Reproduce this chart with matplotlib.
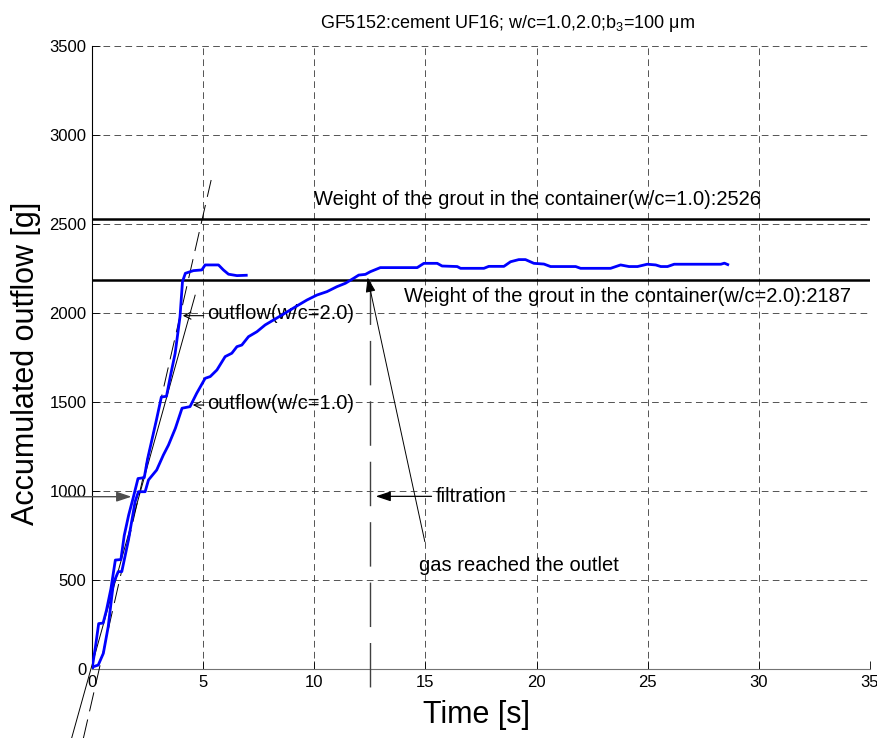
import numpy as np
import matplotlib
matplotlib.use("Agg")
import matplotlib.pyplot as plt

plt.rcParams['font.family'] = ['Liberation Sans', 'DejaVu Sans']
plt.rcParams['mathtext.fontset'] = 'custom'
plt.rcParams['mathtext.rm'] = 'Liberation Sans'
plt.rcParams['mathtext.default'] = 'regular'
plt.rcParams['lines.scale_dashes'] = False

# ------------------------
# DATA
# ------------------------

# outflow w/c=2.0 (steep curve)
t_wc2 = [0, 0.15, 0.3, 0.5, 0.65, 0.85, 1.05, 1.3, 1.45, 1.65,
         1.85, 2.07, 2.35, 2.5, 2.7, 2.9, 3.12, 3.35, 3.55, 3.74,
         3.96, 4.07, 4.2, 4.56, 4.94, 5.09, 5.69, 5.91, 6.14, 6.52, 6.94]
m_wc2 = [0, 120, 255, 258, 330, 450, 612, 615, 750, 865,
         960, 1070, 1075, 1180, 1290, 1400, 1528, 1532, 1660, 1773,
         1980, 2176, 2223, 2238, 2242, 2270, 2270, 2242, 2218, 2210, 2212]

# outflow w/c=1.0
t_wc1 = [0, 0.06, 0.28, 0.51, 0.73, 0.96, 1.18, 1.34, 1.64, 1.94,
         2.09, 2.39, 2.54, 2.91, 3.21, 3.44, 3.75, 4.05, 4.41, 4.71,
         5.09, 5.32, 5.62, 5.99, 6.29, 6.52, 6.74, 7.04, 7.42, 7.79,
         8.17, 8.55, 8.92, 9.29, 9.67, 10.12, 10.57, 11.02, 11.4, 11.77,
         12.0, 12.3, 12.52, 12.97, 14.63, 14.93, 15.53, 15.75, 16.43, 16.58,
         17.63, 17.85, 18.53, 18.83, 19.2, 19.5, 19.88, 20.33, 20.63, 21.76,
         21.98, 23.33, 23.78, 24.16, 24.54, 24.98, 25.36, 25.59, 25.89, 26.19,
         28.29, 28.45, 28.6]
m_wc1 = [0, 13, 22, 88, 238, 481, 547, 547, 725, 940,
         996, 996, 1062, 1118, 1202, 1258, 1352, 1465, 1474, 1549,
         1633, 1643, 1680, 1755, 1774, 1811, 1820, 1867, 1895, 1933,
         1961, 1989, 2017, 2045, 2073, 2101, 2120, 2148, 2167, 2195,
         2213, 2217, 2232, 2255, 2255, 2279, 2279, 2264, 2261, 2251,
         2251, 2262, 2262, 2288, 2300, 2300, 2279, 2275, 2261, 2261,
         2251, 2251, 2270, 2261, 2261, 2274, 2270, 2261, 2261, 2274,
         2274, 2280, 2272]

# grout weights in the container
w_wc1 = 2526
w_wc2 = 2187

# tangent (flow-rate) lines, endpoints
tan_solid_t = [-0.92, 4.64]
tan_solid_m = [-390, 2100]
tan_dash_t = [-0.39, 5.36]
tan_dash_m = [-390, 2747]

# time when gas reached the outlet
t_gas = 12.5

x_ticks = [0, 5, 10, 15, 20, 25, 30, 35]
y_ticks = [0, 500, 1000, 1500, 2000, 2500, 3000, 3500]

# ------------------------
# PLOT
# ------------------------

fig = plt.figure(figsize=(8.78, 7.38), dpi=100)
ax = fig.add_axes([92 / 878, 69 / 738, 778 / 878, 623 / 738])

ax.set_xlim(0, 35)
ax.set_ylim(0, 3500)
ax.set_xticks(x_ticks)
ax.set_yticks(y_ticks)
ax.tick_params(direction='in', length=5.5, width=0.6, labelsize=12, pad=4)
ax.grid(True, color='0.15', linewidth=0.55, linestyle=(0, (4.8, 3.1)))
ax.set_axisbelow(True)
for s in ['top', 'right']:
    ax.spines[s].set_visible(False)
ax.spines['left'].set_linewidth(0.8)
ax.spines['bottom'].set_color('0.45')
ax.spines['bottom'].set_linewidth(0.8)

# curves
ax.plot(t_wc2, m_wc2, color='#0000ff', lw=2.0, zorder=4)
ax.plot(t_wc1, m_wc1, color='#0000ff', lw=2.0, zorder=4)

# weight lines
ax.axhline(w_wc1, color='k', lw=1.8, zorder=3)
ax.axhline(w_wc2, color='k', lw=1.8, zorder=3)

# tangent lines (run past the axes)
ax.plot(tan_solid_t, tan_solid_m, color='k', lw=0.7, clip_on=False, zorder=3)
ax.plot(tan_dash_t, tan_dash_m, color='k', lw=0.7, linestyle=(0, (14, 6)),
        clip_on=False, zorder=3)

# gas reached outlet, vertical long dash
ax.plot([t_gas, t_gas], [w_wc2, -120], color='0.25', lw=1.0,
        linestyle=(0, (32, 11.5)), clip_on=False, zorder=3)

# ------------------------
# ANNOTATIONS
# ------------------------
fs = 14.5
ax.text(10.0, 2640, 'Weight of the grout in the container(w/c=1.0):2526',
        fontsize=fs, va='center', ha='left')
ax.text(14.05, 2092, 'Weight of the grout in the container(w/c=2.0):2187',
        fontsize=fs, va='center', ha='left')

ax.text(5.17, 1995, 'outflow(w/c=2.0)', fontsize=fs, va='center', ha='left')
ax.annotate('', xy=(3.96, 1985), xytext=(5.15, 1985),
            arrowprops=dict(arrowstyle='->,head_length=0.5,head_width=0.25',
                            color='k', lw=0.8))

ax.text(5.17, 1492, 'outflow(w/c=1.0)', fontsize=fs, va='center', ha='left')
ax.annotate('', xy=(4.41, 1483), xytext=(5.15, 1483),
            arrowprops=dict(arrowstyle='->,head_length=0.5,head_width=0.25',
                            color='k', lw=0.8))

ax.text(15.45, 970, 'filtration', fontsize=fs, va='center', ha='left')
ax.annotate('', xy=(12.64, 970), xytext=(15.4, 970),
            arrowprops=dict(arrowstyle='-|>,head_length=0.9,head_width=0.3',
                            color='k', lw=0.9))

ax.text(14.7, 584, 'gas reached the outlet', fontsize=fs, va='center', ha='left')
ax.annotate('', xy=(12.37, 2215), xytext=(15.0, 700),
            arrowprops=dict(arrowstyle='-|>,head_length=0.9,head_width=0.3',
                            color='k', lw=0.7))

# arrow pointing at the crossing near 1000 g, starts left of the axis
ax.annotate('', xy=(1.9, 968), xytext=(-1.44, 968), annotation_clip=False,
            arrowprops=dict(arrowstyle='-|>,head_length=0.9,head_width=0.3',
                            color='0.3', lw=1.0))

ax.set_xlabel('Time [s]', fontsize=22)
ax.xaxis.set_label_coords(0.494, -0.05)
ax.set_ylabel('Accumulated outflow [g]', fontsize=22)
ax.yaxis.set_label_coords(-0.065, 0.49)

fig.text(508 / 878, 1 - 23 / 738, r'GF5152:cement UF16; w/c=1.0,2.0;b$_3$=100 μm',
         fontsize=13, ha='center', va='center')

fig.savefig('out.png', dpi=100)
